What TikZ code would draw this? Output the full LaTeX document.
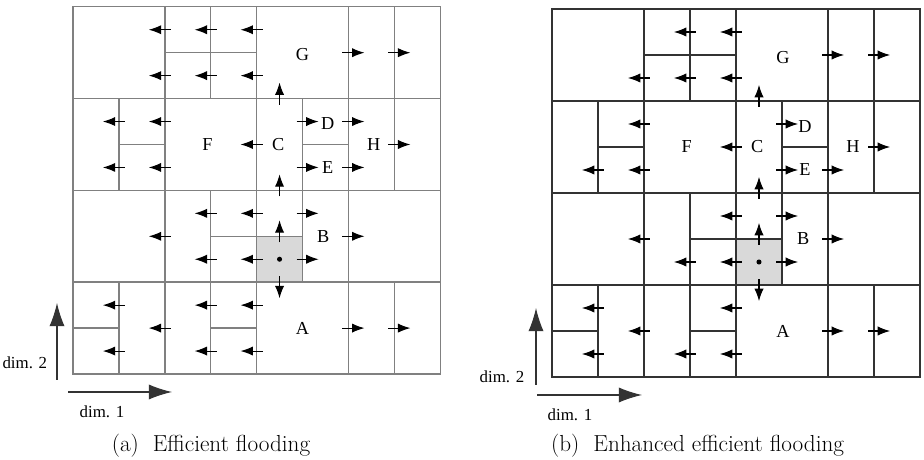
\documentclass[tikz,border=0pt]{standalone}
\usepackage{fontspec}
\newfontfamily\zonefont{Liberation Serif}
\usetikzlibrary{arrows.meta}

% zone borders shared by both panels (cell units)
\newcommand\zonelines{%
  \draw (0,0) rectangle (8,8);
  \draw (0,2) -- (8,2) (0,4) -- (8,4) (0,6) -- (8,6);
  \draw (2,0) -- (2,8) (4,0) -- (4,8) (6,0) -- (6,8);
  \draw (1,0) -- (1,2) (1,4) -- (1,6);
  \draw (3,0) -- (3,4) (3,6) -- (3,8);
  \draw (5,2) -- (5,6);
  \draw (7,0) -- (7,2) (7,4) -- (7,8);
  \draw (0,1) -- (1,1) (3,1) -- (4,1) (3,3) -- (5,3);
  \draw (1,5) -- (2,5) (5,5) -- (6,5) (2,7) -- (4,7);
}

\begin{document}
\begin{tikzpicture}[>=Latex]
  \tikzstyle{flood}=[-{Latex[length=3.1mm,width=2.3mm]},line width=0.75pt,black]
  \tikzstyle{axis}=[-{Latex[length=5.8mm,width=3.8mm]},line width=0.8pt,black!80]
  \tikzstyle{zone}=[font=\zonefont\fontsize{13}{15}\selectfont,inner sep=0pt]
  \tikzstyle{dimlbl}=[font=\zonefont\fontsize{12}{14}\selectfont,inner sep=0pt]
  \tikzstyle{capt}=[font=\fontsize{16.5}{19}\selectfont,anchor=base,inner sep=0pt]
  \useasboundingbox (0,0) rectangle (23.1,11.5);

  % (a) efficient flooding
  \begin{scope}[shift={(1.825,2.15)},x=1.1475cm,y=1.1475cm]
    \fill[black!15] (4,2) rectangle (5,3);
    \begin{scope}[draw=black!50,line width=1pt]
      \zonelines
    \end{scope}
    \fill (4.5,2.5) circle (1.8pt);
    \foreach \x/\y in {2/7.5,2/6.5,3/7.5,3/6.5,4/7.5,4/6.5,1/5.5,1/4.5,2/5.5,2/4.5,4/5,
                       2/3,3/3.5,3/2.5,4/3.5,4/2.5,1/1.5,1/0.5,2/1,3/1.5,3/0.5,4/1.5,4/0.5}
      \draw[flood] (\x+0.13,\y) -- (\x-0.35,\y);
    \foreach \x/\y in {6/7,7/7,5/5.5,5/4.5,6/5.5,6/4.5,7/5,5/3.5,5/2.5,6/3,6/1,7/1}
      \draw[flood] (\x-0.13,\y) -- (\x+0.35,\y);
    \foreach \y in {6,4,3}
      \draw[flood] (4.5,\y-0.13) -- (4.5,\y+0.35);
    \draw[flood] (4.5,2.13) -- (4.5,1.65);
    \node[zone] (aG) at (5,6.95) {G};
    \node[zone] (aF) at (2.93,5) {F};
    \node[zone] (aC) at (4.47,5) {C};
    \node[zone] (aD) at (5.55,5.45) {D};
    \node[zone] (aE) at (5.55,4.5) {E};
    \node[zone] (aH) at (6.55,5) {H};
    \node[zone] (aB) at (5.45,3) {B};
    \node[zone] (aA) at (5,1) {A};
  \end{scope}
  \coordinate (a2s) at (1.425,2.0);
  \coordinate (a2e) at (1.425,3.925);
  \coordinate (a1s) at (1.7,1.7);
  \coordinate (a1e) at (4.3,1.7);
  \draw[axis] (a2s) -- (a2e);
  \draw[axis] (a1s) -- (a1e);
  \node[dimlbl] (adim2) at (0.62,2.42) {dim. 2};
  \node[dimlbl] (adim1) at (2.55,1.2) {dim. 1};
  \node[capt] (capa) at (5.275,0.2) {(a)\ \ Efficient flooding};

  % (b) enhanced efficient flooding
  \begin{scope}[shift={(13.8,2.075)},x=1.15cm,y=1.15cm]
    \fill[black!15] (4,2) rectangle (5,3);
    \begin{scope}[draw=black!80,line width=1pt]
      \zonelines
    \end{scope}
    \fill (4.5,2.5) circle (1.8pt);
    \foreach \x/\y in {3/7.5,4/7.5,2/6.5,3/6.5,4/6.5,2/5.5,1/4.5,2/4.5,4/5,
                       2/3,3/2.5,4/3.5,4/2.5,1/1.5,1/0.5,2/1,3/0.5,4/1.5,4/0.5}
      \draw[flood] (\x+0.13,\y) -- (\x-0.35,\y);
    \foreach \x/\y in {6/7,7/7,5/5.5,5/4.5,6/4.5,7/5,5/3.5,5/2.5,6/3,6/1,7/1}
      \draw[flood] (\x-0.13,\y) -- (\x+0.35,\y);
    \foreach \y in {6,4,3}
      \draw[flood] (4.5,\y-0.13) -- (4.5,\y+0.35);
    \draw[flood] (4.5,2.13) -- (4.5,1.65);
    \node[zone] (bG) at (5.02,6.95) {G};
    \node[zone] (bF) at (2.93,5) {F};
    \node[zone] (bC) at (4.46,5) {C};
    \node[zone] (bD) at (5.5,5.45) {D};
    \node[zone] (bE) at (5.5,4.5) {E};
    \node[zone] (bH) at (6.54,5) {H};
    \node[zone] (bB) at (5.46,3) {B};
    \node[zone] (bA) at (5.02,1) {A};
  \end{scope}
  \coordinate (b2s) at (13.4,1.875);
  \coordinate (b2e) at (13.4,3.8);
  \coordinate (b1s) at (13.425,1.625);
  \coordinate (b1e) at (16.05,1.625);
  \draw[axis] (b2s) -- (b2e);
  \draw[axis] (b1s) -- (b1e);
  \node[dimlbl] (bdim2) at (12.55,2.075) {dim. 2};
  \node[dimlbl] (bdim1) at (14.25,1.125) {dim. 1};
  \node[capt] (capb) at (17.44,0.2) {(b)\ \ Enhanced efficient flooding};
\end{tikzpicture}
\end{document}
